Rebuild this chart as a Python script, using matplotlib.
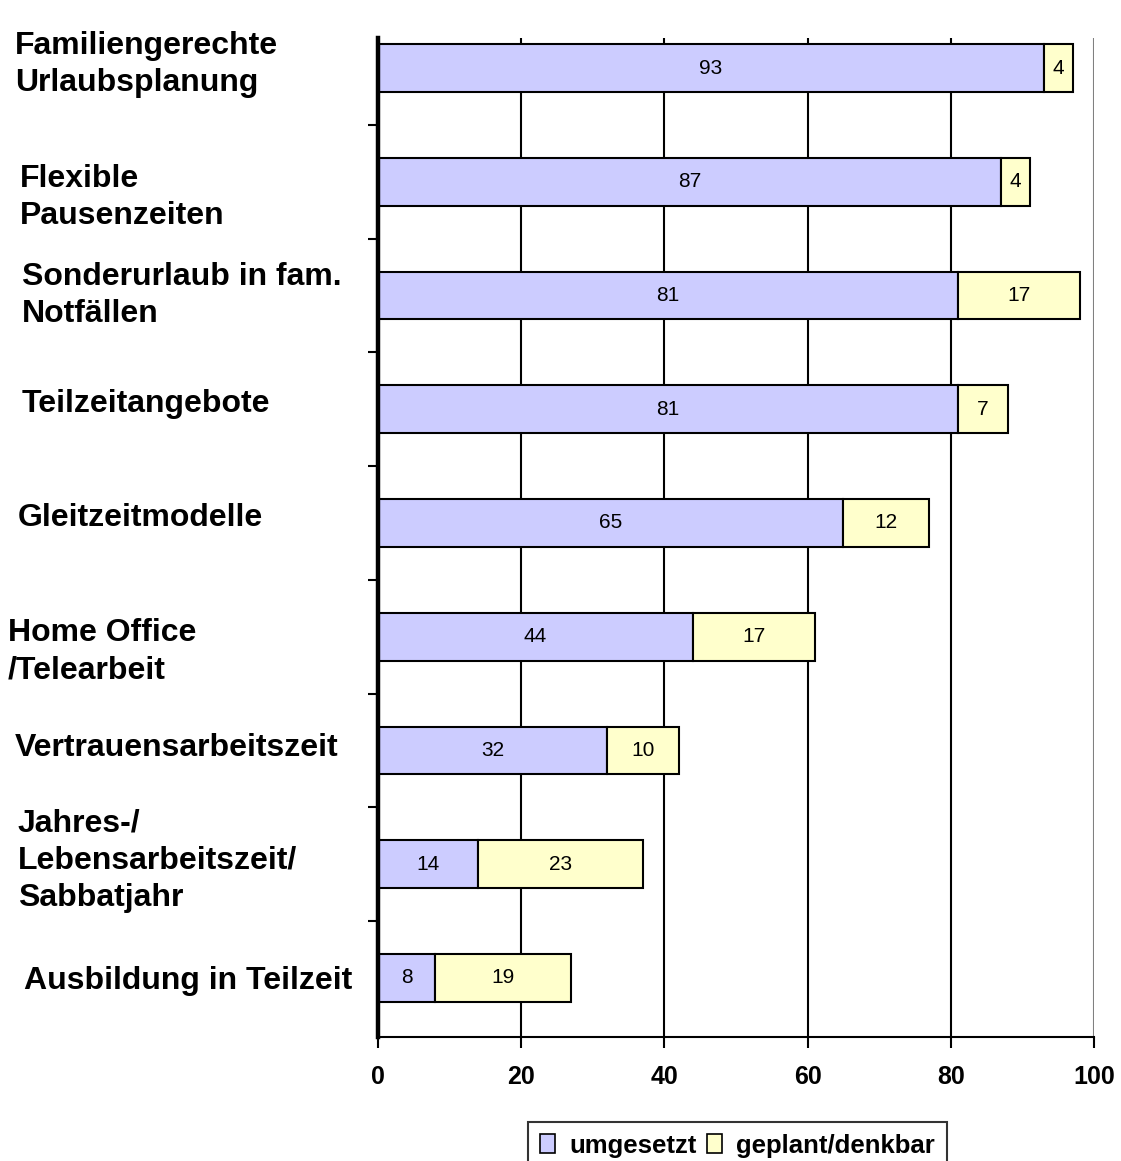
import matplotlib
matplotlib.use("Agg")
import matplotlib.pyplot as plt
from matplotlib import transforms
from matplotlib.patches import Patch
import numpy as np

categories = [
    "Familiengerechte\nUrlaubsplanung",
    "Flexible\nPausenzeiten",
    "Sonderurlaub in fam.\nNotfällen",
    "Teilzeitangebote",
    "Gleitzeitmodelle",
    "Home Office\n/Telearbeit",
    "Vertrauensarbeitszeit",
    "Jahres-/\nLebensarbeitszeit/\nSabbatjahr",
    "Ausbildung in Teilzeit",
]
umgesetzt = [93, 87, 81, 81, 65, 44, 32, 14, 8]
geplant = [4, 4, 17, 7, 12, 17, 10, 23, 19]
series_names = ["umgesetzt", "geplant/denkbar"]
xticks = [0, 20, 40, 60, 80, 100]

# layout of the category labels (figure pixel x, vertical offset in category units)
label_x_px = [15, 20, 22, 22, 18, 8, 15, 18, 24]
label_dy = [-0.03, 0.14, 0.0, -0.045, -0.045, 0.13, -0.02, -0.03, 0.025]

W, H = 1121, 1161
plt.rcParams['font.family'] = ['Liberation Sans', 'DejaVu Sans']
fig = plt.figure(figsize=(W / 100, H / 100), dpi=100)
ax = fig.add_axes([378 / W, 1 - 1037 / H, (1094 - 378) / W, (1037 - 38) / H])

c1 = "#CCCCFF"
c2 = "#FFFFCC"
y = np.arange(len(categories))
bh = 0.42
ax.barh(y, umgesetzt, height=bh, color=c1, edgecolor="black", linewidth=1.5, zorder=3)
ax.barh(y, geplant, left=umgesetzt, height=bh, color=c2, edgecolor="black", linewidth=1.5, zorder=3)

for i in range(len(categories)):
    ax.text(umgesetzt[i] / 2, y[i], str(umgesetzt[i]), ha="center", va="center",
            fontsize=15, zorder=4)
    ax.text(umgesetzt[i] + geplant[i] / 2, y[i], str(geplant[i]), ha="center", va="center",
            fontsize=15, zorder=4)

ax.set_xlim(0, 100)
ax.set_ylim(8 + 0.52, -0.264)
ax.set_xticks(xticks)
ax.set_xticklabels([str(t) for t in xticks], fontsize=18, fontweight="bold")
ax.set_yticks([])
ax.set_yticks(np.arange(0.5, 8.5, 1.0), minor=True)
ax.tick_params(axis="y", which="minor", length=7, width=1.5, direction="out", left=True)
ax.tick_params(axis="x", length=8, width=1.5, direction="out", pad=12)

for xv in xticks[1:-1]:
    ax.axvline(xv, color="black", linewidth=1.5, zorder=1)
ax.axvline(100, color="#808080", linewidth=1.5, zorder=1)

ax.spines["top"].set_visible(False)
ax.spines["right"].set_visible(False)
ax.spines["left"].set_linewidth(3.2)
ax.spines["left"].set_zorder(5)
ax.spines["bottom"].set_linewidth(1.5)
ax.spines["bottom"].set_zorder(5)

trans = transforms.blended_transform_factory(fig.transFigure, ax.transData)
for i, lab in enumerate(categories):
    ax.text(label_x_px[i] / W, y[i] + label_dy[i], lab, transform=trans,
            ha="left", va="center", fontsize=23, fontweight="bold",
            linespacing=1.32, clip_on=False)

handles = [Patch(facecolor=c1, edgecolor="black", linewidth=1.2),
           Patch(facecolor=c2, edgecolor="black", linewidth=1.2)]
leg = fig.legend(handles, series_names, loc="upper left",
                 bbox_to_anchor=(528 / W, 1 - 1122 / H), ncol=2,
                 prop={"size": 18.5, "weight": "bold"}, frameon=True,
                 fancybox=False, edgecolor="black", handlelength=0.6,
                 handleheight=0.75, handletextpad=0.55, columnspacing=0.4,
                 borderpad=0.45, borderaxespad=0)
leg.get_frame().set_linewidth(1.5)

fig.savefig("out.png", dpi=100)
